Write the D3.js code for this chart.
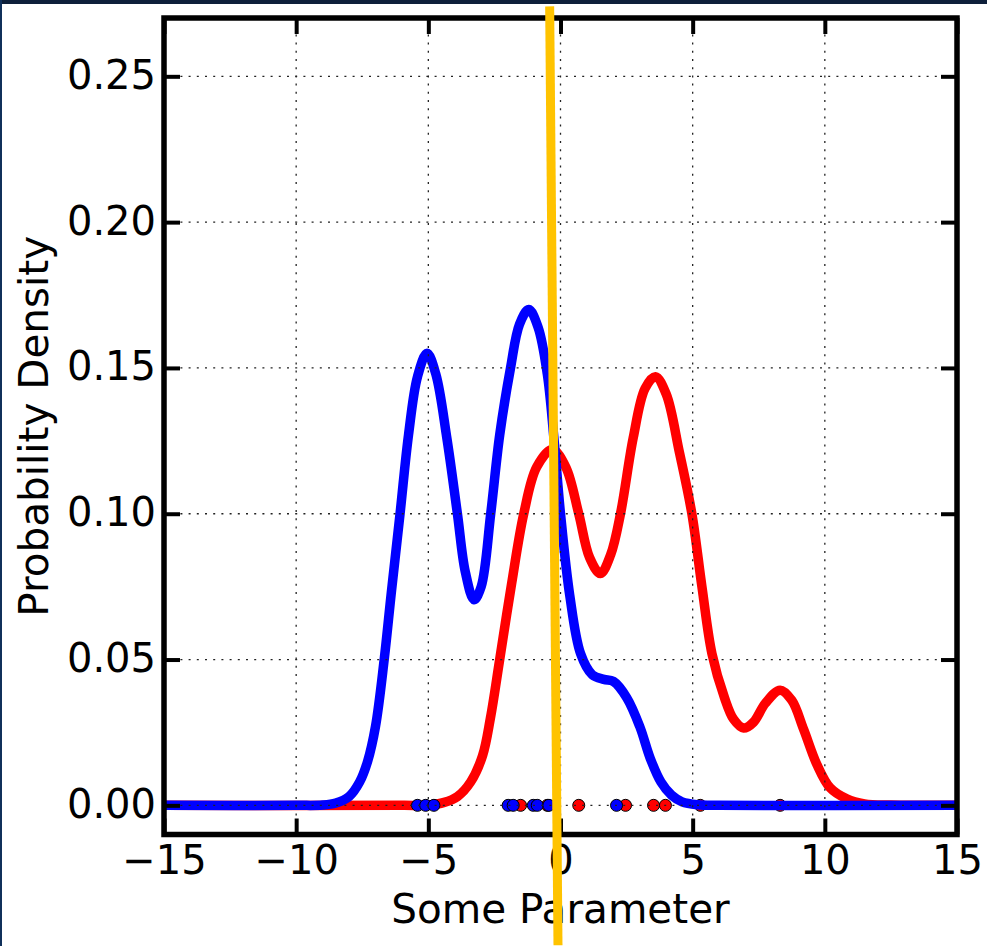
<!DOCTYPE html>
<html>
<head>
<meta charset="utf-8">
<script src="https://cdn.jsdelivr.net/npm/d3@7"></script>
<style>
  body { margin: 0; background: #fff; }
  svg { display: block; font-family: "DejaVu Sans", sans-serif; }
</style>
</head>
<body>
<svg id="chart"></svg>
<script>
// sample points along the two density curves (x, density)
const blueCurve = [
  [-15, 0], [-10, 0], [-9, 0.0001], [-8.5, 0.0008], [-8, 0.003], [-7.6, 0.008], [-7.3, 0.015],
  [-7, 0.027], [-6.67, 0.05], [-6.4, 0.073], [-6.07, 0.10], [-5.75, 0.127],
  [-5.41, 0.147], [-5.05, 0.155], [-4.72, 0.148], [-4.3, 0.126], [-3.9, 0.10],
  [-3.6, 0.080], [-3.27, 0.0705], [-3.0, 0.075], [-2.64, 0.10], [-2.3, 0.127],
  [-1.89, 0.150], [-1.55, 0.165], [-1.2, 0.170], [-0.85, 0.164], [-0.5, 0.148],
  [-0.25, 0.126], [0, 0.10], [0.35, 0.072], [0.76, 0.052], [1.2, 0.0448],
  [1.64, 0.0432], [2.0, 0.0425], [2.5, 0.037], [3.0, 0.027], [3.4, 0.016],
  [3.8, 0.008], [4.2, 0.0035], [4.6, 0.0012], [5.2, 0.0002], [6, 0], [15, 0]
];
const redCurve = [
  [-15, 0], [-6, 0], [-5, 0.0001], [-4.4, 0.001], [-3.9, 0.003], [-3.4, 0.008], [-2.95, 0.017],
  [-2.65, 0.03], [-2.3, 0.05], [-1.85, 0.076], [-1.39, 0.10], [-0.9, 0.116],
  [-0.31, 0.122], [0.2, 0.116], [0.69, 0.10], [1.1, 0.085], [1.51, 0.0795],
  [1.9, 0.086], [2.27, 0.10], [2.75, 0.126], [3.2, 0.143], [3.59, 0.147],
  [4.0, 0.141], [4.5, 0.121], [4.97, 0.10], [5.35, 0.075], [5.73, 0.052],
  [6.2, 0.037], [6.55, 0.0295], [6.93, 0.0265], [7.3, 0.0285], [7.75, 0.035],
  [8.31, 0.0395], [8.75, 0.036], [9.2, 0.026], [9.7, 0.014], [10.2, 0.006],
  [10.83, 0.0022], [11.5, 0.0005], [12.5, 0.0001], [13.5, 0], [15, 0]
];
// observed samples drawn on the zero line
const bluePoints = [-5.41, -5.10, -4.79, -1.98, -1.79, -1.03, -0.88, -0.44, 2.12];
const redPoints = [-1.51, -0.50, 0.69, 2.46, 3.52, 3.97, 5.29, 8.31];
// hand-drawn marker line, in data coordinates
const markerLine = [[-0.41, 0.274], [-0.095, -0.048]];

const xTicks = [-15, -10, -5, 0, 5, 10, 15];
const yTicks = [0, 0.05, 0.10, 0.15, 0.20, 0.25];

const width = 987, height = 946;
const margin = {top: 18, right: 30, bottom: 111.5, left: 164};

const svg = d3.select('#chart').attr('width', width).attr('height', height);

// dark page border
svg.append('rect').attr('x', 0).attr('y', 0).attr('width', width).attr('height', 4).attr('fill', '#0e203a');
svg.append('rect').attr('x', 0).attr('y', 0).attr('width', 2).attr('height', height).attr('fill', '#10305a');

const x = d3.scaleLinear().domain([-15, 15]).range([margin.left, width - margin.right]);
const y = d3.scaleLinear().domain([-0.01, 0.27]).range([height - margin.bottom, margin.top]);

const line = d3.line()
  .x(d => x(d[0]))
  .y(d => y(d[1]))
  .curve(d3.curveCatmullRom.alpha(0.5));

const plot = svg.append('g');

// red first, then blue on top
plot.append('path').datum(redCurve)
  .attr('d', line).attr('fill', 'none').attr('stroke', '#ff0000')
  .attr('stroke-width', 9.5).attr('stroke-linejoin', 'round');
plot.selectAll('circle.red').data(redPoints).join('circle')
  .attr('class', 'red').attr('cx', d => x(d)).attr('cy', y(0)).attr('r', 6)
  .attr('fill', '#ff0000').attr('stroke', '#000').attr('stroke-width', 1);

plot.append('path').datum(blueCurve)
  .attr('d', line).attr('fill', 'none').attr('stroke', '#0000ff')
  .attr('stroke-width', 9.5).attr('stroke-linejoin', 'round');
plot.selectAll('circle.blue').data(bluePoints).join('circle')
  .attr('class', 'blue').attr('cx', d => x(d)).attr('cy', y(0)).attr('r', 6)
  .attr('fill', '#0000ff').attr('stroke', '#000').attr('stroke-width', 1);

// dotted grid sits above the data
const grid = svg.append('g')
  .attr('stroke', '#222').attr('stroke-width', 1.3).attr('stroke-dasharray', '2,6.2');
grid.selectAll('line.gx').data(xTicks.slice(1, -1)).join('line')
  .attr('class', 'gx')
  .attr('x1', d => x(d)).attr('x2', d => x(d))
  .attr('y1', y.range()[1]).attr('y2', y.range()[0]);
grid.selectAll('line.gy').data(yTicks).join('line')
  .attr('class', 'gy')
  .attr('y1', d => y(d)).attr('y2', d => y(d))
  .attr('x1', x.range()[0]).attr('x2', x.range()[1]);

// axes with inward ticks on all four sides
const tickLen = 16;
const fmtX = d => d < 0 ? '\u2212' + Math.abs(d) : String(d);

const axBottom = svg.append('g').attr('transform', `translate(0,${y.range()[0]})`)
  .call(d3.axisBottom(x).tickValues(xTicks).tickSizeInner(-tickLen).tickSizeOuter(0).tickPadding(0).tickFormat(fmtX));
const axTop = svg.append('g').attr('transform', `translate(0,${y.range()[1]})`)
  .call(d3.axisTop(x).tickValues(xTicks).tickSizeInner(-tickLen).tickSizeOuter(0).tickFormat(''));
const axLeft = svg.append('g').attr('transform', `translate(${x.range()[0]},0)`)
  .call(d3.axisLeft(y).tickValues(yTicks).tickSizeInner(-tickLen).tickSizeOuter(0).tickFormat(d3.format('.2f')));
const axRight = svg.append('g').attr('transform', `translate(${x.range()[1]},0)`)
  .call(d3.axisRight(y).tickValues(yTicks).tickSizeInner(-tickLen).tickSizeOuter(0).tickFormat(''));

[axBottom, axTop, axLeft, axRight].forEach(g => {
  g.select('.domain').remove();
  g.selectAll('.tick line').attr('stroke', '#000').attr('stroke-width', 4);
});

axBottom.selectAll('.tick text')
  .attr('font-size', 40).attr('fill', '#000')
  .attr('dy', null).attr('y', 39).style('font-family', '"DejaVu Sans", sans-serif');
axLeft.selectAll('.tick text')
  .attr('font-size', 40).attr('fill', '#000')
  .attr('dy', null).attr('x', -8).attr('y', 12).style('font-family', '"DejaVu Sans", sans-serif');

// frame
svg.append('rect')
  .attr('x', x.range()[0]).attr('y', y.range()[1])
  .attr('width', x.range()[1] - x.range()[0]).attr('height', y.range()[0] - y.range()[1])
  .attr('fill', 'none').attr('stroke', '#000').attr('stroke-width', 5.5);

// axis labels
svg.append('text')
  .attr('x', (x.range()[0] + x.range()[1]) / 2).attr('y', 923)
  .attr('text-anchor', 'middle').attr('font-size', 40.5).attr('fill', '#000')
  .text('Some Parameter');
svg.append('text')
  .attr('transform', `translate(48,${(y.range()[0] + y.range()[1]) / 2}) rotate(-90)`)
  .attr('text-anchor', 'middle').attr('font-size', 40.5).attr('fill', '#000')
  .text('Probability Density');

// yellow marker stroke over everything
svg.append('path').datum(markerLine)
  .attr('d', d3.line().x(d => x(d[0])).y(d => y(d[1])))
  .attr('stroke', '#ffc300').attr('stroke-width', 9).attr('fill', 'none');
</script>
</body>
</html>
